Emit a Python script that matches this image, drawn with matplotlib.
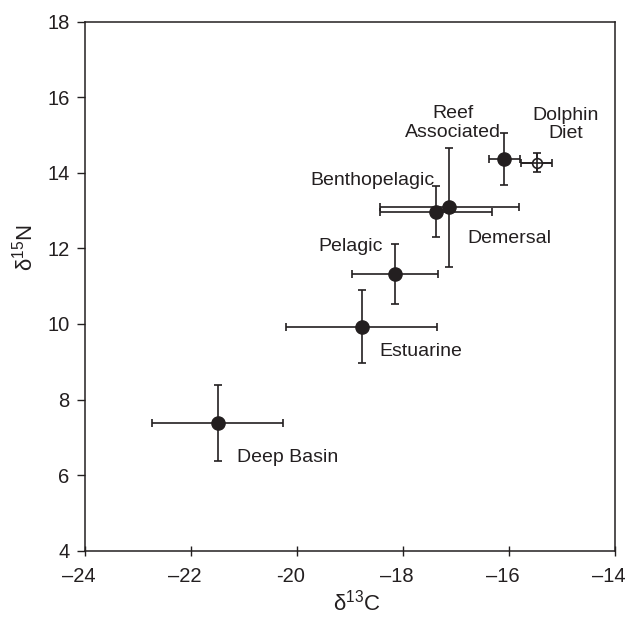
import matplotlib
matplotlib.use("Agg")
import matplotlib.pyplot as plt
import matplotlib.transforms as mtransforms

plt.rcParams['font.family'] = ['Liberation Sans', 'DejaVu Sans']
plt.rcParams['mathtext.fontset'] = 'custom'
plt.rcParams['mathtext.rm'] = 'Liberation Sans'
plt.rcParams['mathtext.it'] = 'Liberation Sans'

groups = ["Deep Basin", "Estuarine", "Pelagic", "Benthopelagic", "Demersal", "Reef\nAssociated"]
d13c = [-21.5, -18.78, -18.15, -17.38, -17.13, -16.09]
d13c_err = [1.24, 1.42, 0.81, 1.06, 1.31, 0.29]
d15n = [7.38, 9.93, 11.32, 12.97, 13.09, 14.36]
d15n_err = [1.0, 0.97, 0.8, 0.67, 1.58, 0.69]

diet_label = "Dolphin\nDiet"
diet_c, diet_c_err = -15.48, 0.3
diet_n, diet_n_err = 14.27, 0.25

# label anchor positions (data coords)
label_x = [-20.17, -17.66, -18.98, -18.58, -16.0, -17.06]
label_y = [6.46, 9.27, 12.04, 13.79, 12.25, 15.32]
diet_lx, diet_ly = -14.93, 15.28

xticks = [-24, -22, -20, -18, -16, -14]
xtick_labels = ["–24", "–22", "-20", "–18", "–16", "–14"]
yticks = [4, 6, 8, 10, 12, 14, 16, 18]

col = '#231f20'
fig = plt.figure(figsize=(6.26, 6.20), dpi=100)
ax = fig.add_axes([85/626, 1-550.7/620, 530/626, 529/620])

ax.errorbar(d13c, d15n, xerr=d13c_err, yerr=d15n_err, fmt='o', color=col,
            ms=9.5, ecolor=col, elinewidth=1.2, capsize=3.2, capthick=1.2, zorder=3)
ax.errorbar([diet_c], [diet_n], xerr=[diet_c_err], yerr=[diet_n_err], fmt='o',
            mfc='white', mec=col, mew=1.2, ms=7, ecolor=col, elinewidth=1.2,
            capsize=3.2, capthick=1.2, zorder=2)
ax.errorbar([diet_c], [diet_n], xerr=[diet_c_err], yerr=[diet_n_err], fmt='none',
            ecolor=col, elinewidth=1.2, zorder=4)

for g, x, y in zip(groups, label_x, label_y):
    ax.text(x, y, g, ha='center', va='center', fontsize=14, color=col, linespacing=1.1)
ax.text(diet_lx, diet_ly, diet_label, ha='center', va='center', fontsize=14, color=col,
        linespacing=1.1)

ax.set_xlim(-24, -14)
ax.set_ylim(4, 18)
ax.set_xticks(xticks)
ax.set_xticklabels(xtick_labels)
ax.set_yticks(yticks)
ax.tick_params(axis='x', direction='inout', length=7, width=1, labelsize=14.5, pad=8.5, colors=col)
ax.tick_params(axis='y', direction='out', length=6, width=1, labelsize=14.5, pad=5, colors=col)
offset = mtransforms.ScaledTranslation(-6/100, 0, fig.dpi_scale_trans)
for lbl in ax.get_xticklabels():
    lbl.set_transform(lbl.get_transform() + offset)
for s in ax.spines.values():
    s.set_linewidth(1.1)
    s.set_color(col)

ax.set_xlabel(r'δ$^{13}$C', fontsize=16, color=col)
ax.set_ylabel(r'δ$^{15}$N', fontsize=16, color=col)
ax.xaxis.set_label_coords(0.513, -0.074)
ax.yaxis.set_label_coords(-0.09, 0.572)

fig.savefig('out.png', dpi=100)
